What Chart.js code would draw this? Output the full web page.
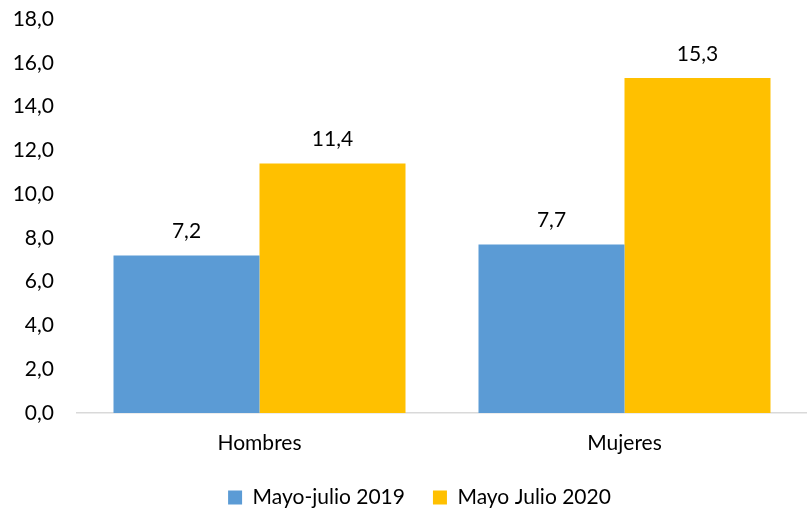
<!DOCTYPE html>
<html>
<head>
<meta charset="utf-8">
<script src="https://cdn.jsdelivr.net/npm/chart.js@4/dist/chart.umd.min.js"></script>
<style>
  html, body { margin: 0; padding: 0; background: #fff; }
  #wrap { width: 807px; height: 508px; }
</style>
</head>
<body>
<div id="wrap"><canvas id="myChart" width="807" height="508"></canvas></div>
<script>
// Data
var categories = ["Hombres", "Mujeres"];
var seriesNames = ["Mayo-julio 2019", "Mayo Julio 2020"];
var values2019 = [7.2, 7.7];
var values2020 = [11.4, 15.3];
var yTicks = [0, 2, 4, 6, 8, 10, 12, 14, 16, 18];

function fmt(v) {
  return v.toFixed(1).replace(".", ",");
}

// simple plugin to write the value above each bar
var barValueLabels = {
  id: "barValueLabels",
  afterDatasetsDraw: function (chart) {
    var ctx = chart.ctx;
    ctx.save();
    ctx.font = "21px Lato, 'Open Sans', sans-serif";
    ctx.fillStyle = "#000";
    ctx.textAlign = "center";
    ctx.textBaseline = "middle";
    chart.data.datasets.forEach(function (ds, i) {
      chart.getDatasetMeta(i).data.forEach(function (bar, j) {
        ctx.fillText(fmt(ds.data[j]), bar.x, bar.y - 24);
      });
    });
    ctx.restore();
  }
};

// the legend in the original sits a bit right of the canvas centre
var legendShift = {
  id: "legendShift",
  afterLayout: function (chart) {
    if (chart.legend) {
      chart.legend.left += 16;
      chart.legend.right += 16;
    }
  }
};

Chart.defaults.font.family = "Lato, 'Open Sans', sans-serif";
Chart.defaults.font.size = 21;
Chart.defaults.color = "#000";

var ctx = document.getElementById("myChart").getContext("2d");
var myChart = new Chart(ctx, {
  type: "bar",
  data: {
    labels: categories,
    datasets: [
      {
        label: seriesNames[0],
        data: values2019,
        backgroundColor: "#5B9BD5",
        categoryPercentage: 0.8,
        barPercentage: 1.0
      },
      {
        label: seriesNames[1],
        data: values2020,
        backgroundColor: "#FFC000",
        categoryPercentage: 0.8,
        barPercentage: 1.0
      }
    ]
  },
  options: {
    responsive: false,
    animation: false,
    layout: { padding: { top: 0, right: 0, left: 0, bottom: -10 } },
    plugins: {
      legend: {
        position: "bottom",
        labels: { boxWidth: 14, boxHeight: 14, padding: 28, color: "#000" }
      },
      tooltip: { enabled: false }
    },
    scales: {
      x: {
        afterFit: function (axis) { axis.height = 46; },
        grid: { display: false, drawTicks: false },
        border: { color: "#D9D9D9", width: 1.5 },
        ticks: { padding: 18 }
      },
      y: {
        min: 0,
        max: 18,
        afterBuildTicks: function (axis) {
          axis.ticks = yTicks.map(function (v) { return { value: v }; });
        },
        afterFit: function (axis) {
          axis.width = 77;
          axis.paddingTop = 19;
          axis.paddingBottom = 0;
        },
        grid: { display: false, drawTicks: false },
        border: { display: false },
        ticks: {
          padding: 23,
          callback: function (v) { return fmt(v); }
        }
      }
    }
  },
  plugins: [barValueLabels, legendShift]
});
</script>
</body>
</html>
